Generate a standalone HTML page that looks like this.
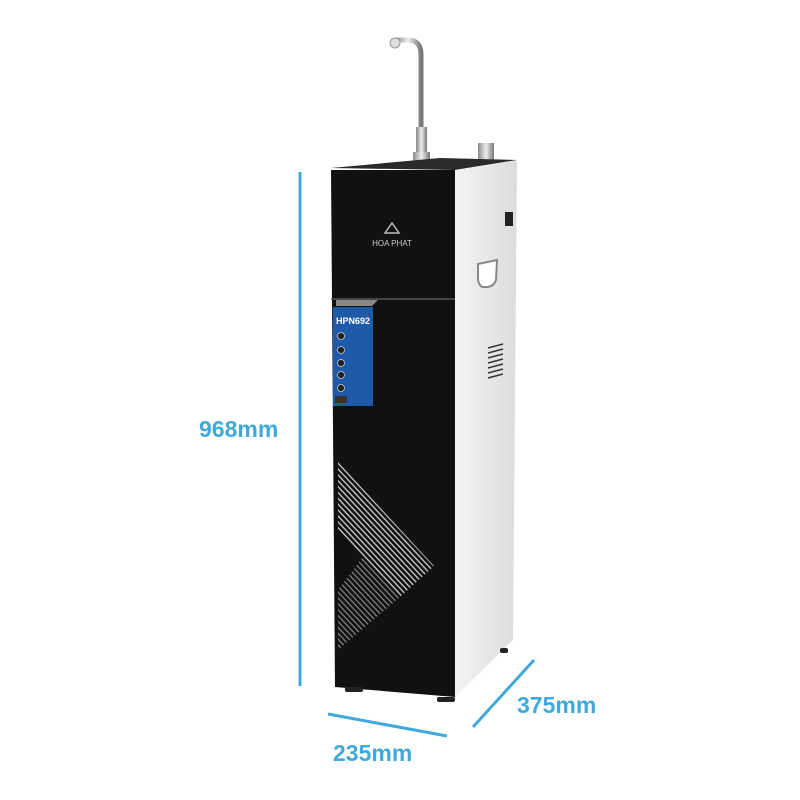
<!DOCTYPE html>
<html><head><meta charset="utf-8"><style>
html,body{margin:0;padding:0;background:#fff;width:800px;height:800px;overflow:hidden}
</style></head><body>
<svg width="800" height="800" viewBox="0 0 800 800" xmlns="http://www.w3.org/2000/svg" font-family="Liberation Sans, sans-serif">
<defs>
<linearGradient id="side" x1="0" x2="1"><stop offset="0" stop-color="#f4f4f4"/><stop offset="1" stop-color="#dcdcdc"/></linearGradient>
<linearGradient id="pipe" x1="0" x2="1"><stop offset="0" stop-color="#888"/><stop offset=".5" stop-color="#eee"/><stop offset="1" stop-color="#777"/></linearGradient>
<clipPath id="chevU"><polygon points="338,462 434,566 400,597 363,557 338,530"/></clipPath>
<clipPath id="chevL"><polygon points="400,597 338,650 338,590 363,557"/></clipPath>
<pattern id="str" width="4" height="4" patternUnits="userSpaceOnUse" patternTransform="rotate(47)">
<rect width="4" height="1.3" fill="#d0d0d0"/></pattern>
<pattern id="str2" width="4" height="4" patternUnits="userSpaceOnUse" patternTransform="rotate(47)">
<rect width="4" height="1.2" fill="#888"/></pattern>
</defs>
<!-- faucet -->
<path d="M421,150 L421,55 Q421,40 408,40 L395,40" fill="none" stroke="url(#pipe)" stroke-width="5"/>
<circle cx="395" cy="43" r="5" fill="#ddd" stroke="#999"/>
<rect x="416" y="127" width="11" height="30" fill="url(#pipe)"/>
<rect x="413" y="152" width="17" height="10" fill="url(#pipe)"/>
<rect x="478" y="143" width="16" height="18" fill="url(#pipe)"/>
<!-- top -->
<polygon points="331,168 440,158 517,160 455,170" fill="#2a2a2a"/>
<!-- side -->
<polygon points="455,170 517,160 513,640 455,697" fill="url(#side)"/>
<path d="M478,264 L497,260 L496,280 Q494,286 488,287 L482,287 Q478,284 478,278 Z" fill="#fff" stroke="#888" stroke-width="2"/>
<rect x="505" y="212" width="8" height="14" fill="#222"/>
<g stroke="#333" stroke-width="1.5">
<line x1="488" y1="348" x2="503" y2="344"/><line x1="488" y1="353" x2="503" y2="349"/><line x1="488" y1="358" x2="503" y2="354"/><line x1="488" y1="363" x2="503" y2="359"/><line x1="488" y1="368" x2="503" y2="364"/><line x1="488" y1="373" x2="503" y2="369"/><line x1="488" y1="378" x2="503" y2="374"/>
</g>
<!-- front -->
<polygon points="331,170 455,170 455,697 335,687" fill="#111"/>
<line x1="331" y1="299" x2="455" y2="299" stroke="#555" stroke-width="1.5"/>
<polygon points="336,300 378,300 372,306 336,306" fill="#888"/>
<!-- logo -->
<polygon points="392,223 385,233 399,233" fill="none" stroke="#bbb" stroke-width="1.5"/>
<text x="392" y="246" font-size="8" fill="#ccc" text-anchor="middle">HOA PHAT</text>
<!-- label -->
<rect x="333" y="307" width="40" height="99" fill="#1e5aa8"/>
<text x="336" y="324" font-size="9" font-weight="bold" fill="#fff">HPN692</text>
<g fill="#222" stroke="#ccc" stroke-width="0.8">
<circle cx="341" cy="336" r="3.5"/><circle cx="341" cy="350" r="3.5"/><circle cx="341" cy="363" r="3.5"/><circle cx="341" cy="375" r="3.5"/><circle cx="341" cy="388" r="3.5"/>
</g>
<rect x="335" y="396" width="12" height="7" fill="#333"/>
<!-- chevron -->
<rect x="330" y="455" width="110" height="200" fill="url(#str)" clip-path="url(#chevU)"/>
<rect x="330" y="455" width="110" height="200" fill="url(#str2)" clip-path="url(#chevL)"/>
<!-- feet -->
<rect x="345" y="687" width="18" height="5" rx="2" fill="#222"/>
<rect x="437" y="697" width="18" height="5" rx="2" fill="#222"/>
<rect x="500" y="648" width="8" height="5" rx="2" fill="#222"/>
<!-- dimensions -->
<g stroke="#3fa9db" stroke-width="3">
<line x1="300" y1="172" x2="300" y2="686"/>
<line x1="328" y1="714" x2="447" y2="736"/>
<line x1="473" y1="727" x2="534" y2="660"/>
</g>
<g fill="#3fa9db" font-weight="bold" font-size="23">
<text x="199" y="437">968mm</text>
<text x="333" y="761">235mm</text>
<text x="517" y="713">375mm</text>
</g>
</svg>
</body></html>
